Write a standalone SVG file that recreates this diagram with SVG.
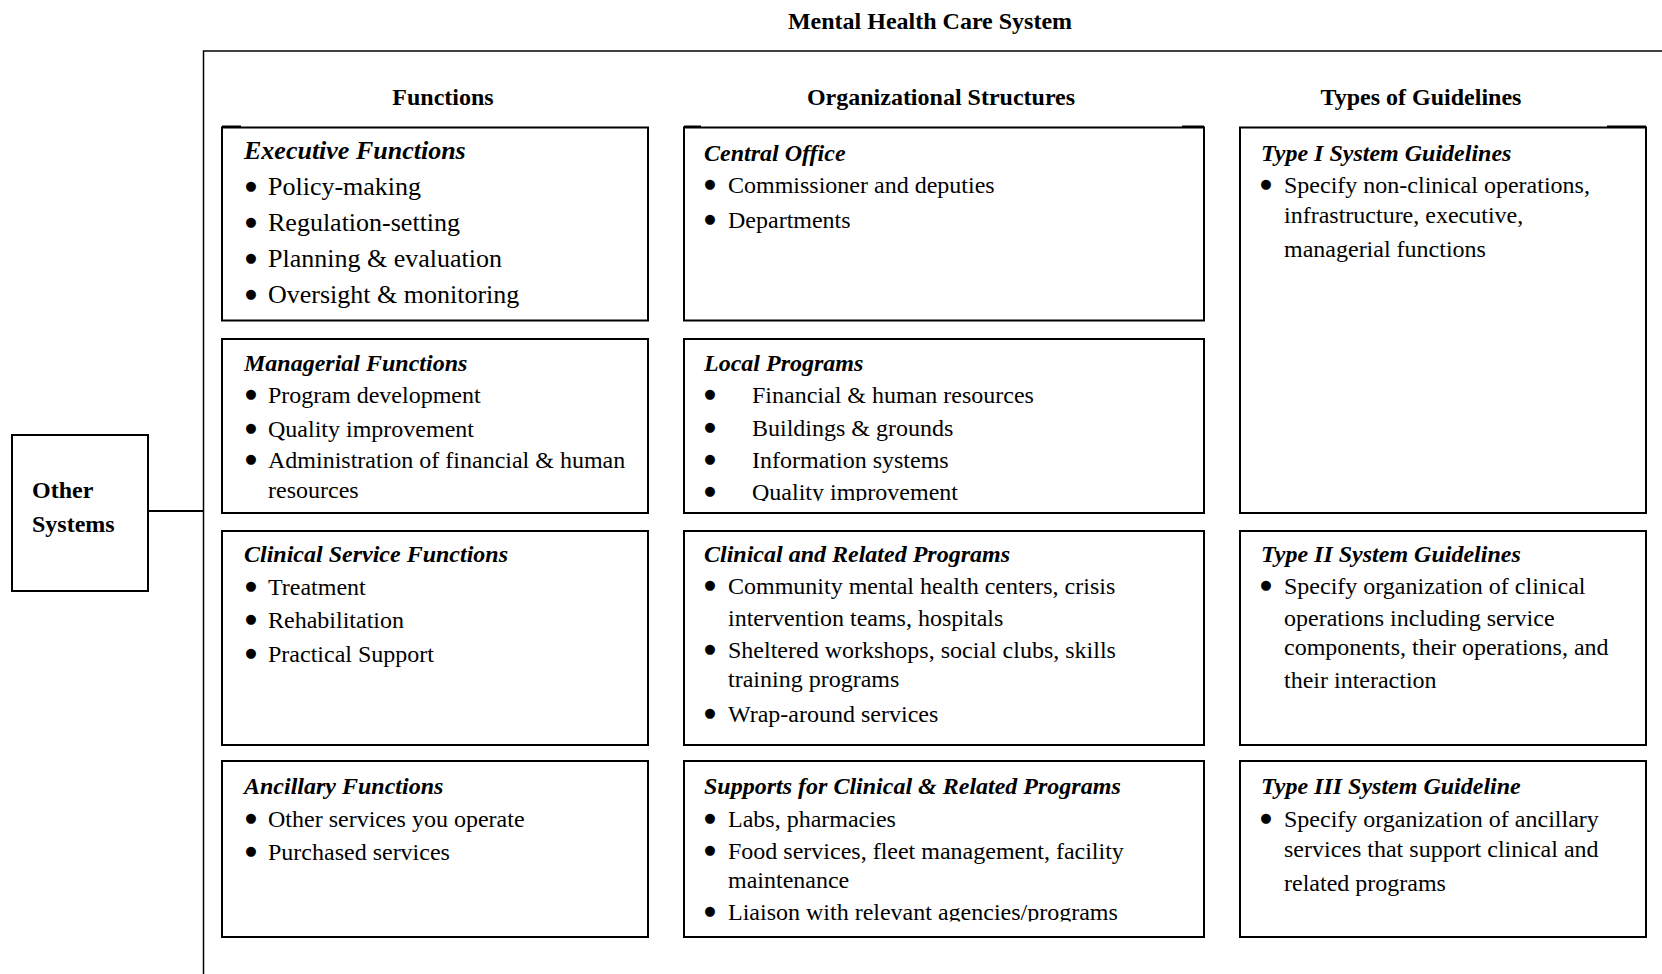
<svg xmlns="http://www.w3.org/2000/svg" width="1662" height="974" viewBox="0 0 1662 974">
  <style>
    text { font-family: "Liberation Serif", "Times New Roman", serif; fill: #000; }
    .hd { font-weight: bold; font-size: 24px; }
    .tt { font-weight: bold; font-style: italic; font-size: 24px; }
    .tx { font-size: 24px; }
    .big .tt, .big .tx { font-size: 26px; }
    .bl { font-family: "DejaVu Sans", sans-serif; font-size: 13px; text-anchor: middle; }
    .box { fill: #fff; stroke: #000; stroke-width: 2; }
    .frame { fill: none; stroke: #000; stroke-width: 1.5; }
    .tick { stroke: #000; stroke-width: 2; }
    .mid { text-anchor: middle; }
  </style>
  <defs>
    <clipPath id="clipLocal"><rect x="684" y="339" width="520" height="162"/></clipPath>
    <clipPath id="clipSupports"><rect x="684" y="761" width="520" height="160.5"/></clipPath>
  </defs>

  <rect width="1662" height="974" fill="#fff"/>

  <!-- system title and enclosing frame -->
  <g id="system">
    <text class="hd mid" x="930" y="29">Mental Health Care System</text>
    <path class="frame" d="M203.5,974 V51 H1662"/>
    <text class="hd mid" x="443" y="105">Functions</text>
    <text class="hd mid" x="941" y="105">Organizational Structures</text>
    <text class="hd mid" x="1421" y="105">Types of Guidelines</text>
  </g>

  <!-- connectors -->
  <g id="connectors">
    <line x1="148" y1="511" x2="203.5" y2="511" stroke="#000" stroke-width="2"/>
  </g>

  <g id="other-systems">
    <rect class="box" x="12" y="435" width="136" height="156"/>
    <text class="hd" x="32" y="498">Other</text>
    <text class="hd" x="32" y="532">Systems</text>
  </g>

  <!-- Functions column -->
  <g id="executive-functions" class="big">
    <rect class="box" x="222" y="127.5" width="426" height="193"/>
    <line class="tick" x1="222" y1="126.5" x2="241" y2="126.5"/>
    <text class="tt" x="244" y="159">Executive Functions</text>
    <text class="bl" x="251" y="189.5">●</text><text class="tx" x="268" y="195">Policy-making</text>
    <text class="bl" x="251" y="225.5">●</text><text class="tx" x="268" y="231">Regulation-setting</text>
    <text class="bl" x="251" y="261.5">●</text><text class="tx" x="268" y="267">Planning &amp; evaluation</text>
    <text class="bl" x="251" y="297.5">●</text><text class="tx" x="268" y="303">Oversight &amp; monitoring</text>
  </g>

  <g id="managerial-functions">
    <rect class="box" x="222" y="339" width="426" height="174"/>
    <text class="tt" x="244" y="371">Managerial Functions</text>
    <text class="bl" x="251" y="397.5">●</text><text class="tx" x="268" y="403">Program development</text>
    <text class="bl" x="251" y="431.5">●</text><text class="tx" x="268" y="437">Quality improvement</text>
    <text class="bl" x="251" y="462.5">●</text><text class="tx" x="268" y="468">Administration of financial &amp; human</text>
    <text class="tx" x="268" y="498">resources</text>
  </g>

  <g id="clinical-service-functions">
    <rect class="box" x="222" y="531" width="426" height="214"/>
    <text class="tt" x="244" y="562">Clinical Service Functions</text>
    <text class="bl" x="251" y="589.5">●</text><text class="tx" x="268" y="595">Treatment</text>
    <text class="bl" x="251" y="622.5">●</text><text class="tx" x="268" y="628">Rehabilitation</text>
    <text class="bl" x="251" y="656.5">●</text><text class="tx" x="268" y="662">Practical Support</text>
  </g>

  <g id="ancillary-functions">
    <rect class="box" x="222" y="761" width="426" height="176"/>
    <text class="tt" x="244" y="794">Ancillary Functions</text>
    <text class="bl" x="251" y="821.5">●</text><text class="tx" x="268" y="827">Other services you operate</text>
    <text class="bl" x="251" y="854.5">●</text><text class="tx" x="268" y="860">Purchased services</text>
  </g>

  <!-- Organizational Structures column -->
  <g id="central-office">
    <rect class="box" x="684" y="127.5" width="520" height="193"/>
    <line class="tick" x1="684" y1="126.5" x2="701" y2="126.5"/>
    <line class="tick" x1="1182" y1="126.5" x2="1204" y2="126.5"/>
    <text class="tt" x="704" y="161">Central Office</text>
    <text class="bl" x="710" y="187.5">●</text><text class="tx" x="728" y="193">Commissioner and deputies</text>
    <text class="bl" x="710" y="222.5">●</text><text class="tx" x="728" y="228">Departments</text>
  </g>

  <g id="local-programs">
    <rect class="box" x="684" y="339" width="520" height="174"/>
    <text class="tt" x="704" y="371">Local Programs</text>
    <text class="bl" x="710" y="397.5">●</text><text class="tx" x="752" y="403">Financial &amp; human resources</text>
    <text class="bl" x="710" y="430.5">●</text><text class="tx" x="752" y="436">Buildings &amp; grounds</text>
    <text class="bl" x="710" y="462.5">●</text><text class="tx" x="752" y="468">Information systems</text>
    <g clip-path="url(#clipLocal)">
      <text class="bl" x="710" y="494.5">●</text><text class="tx" x="752" y="500">Quality improvement</text>
    </g>
  </g>

  <g id="clinical-related-programs">
    <rect class="box" x="684" y="531" width="520" height="214"/>
    <text class="tt" x="704" y="562">Clinical and Related Programs</text>
    <text class="bl" x="710" y="588.5">●</text><text class="tx" x="728" y="594">Community mental health centers, crisis</text>
    <text class="tx" x="728" y="626">intervention teams, hospitals</text>
    <text class="bl" x="710" y="652.5">●</text><text class="tx" x="728" y="658">Sheltered workshops, social clubs, skills</text>
    <text class="tx" x="728" y="687">training programs</text>
    <text class="bl" x="710" y="716.5">●</text><text class="tx" x="728" y="722">Wrap-around services</text>
  </g>

  <g id="supports-programs">
    <rect class="box" x="684" y="761" width="520" height="176"/>
    <text class="tt" x="704" y="794">Supports for Clinical &amp; Related Programs</text>
    <text class="bl" x="710" y="821.5">●</text><text class="tx" x="728" y="827">Labs, pharmacies</text>
    <text class="bl" x="710" y="853.5">●</text><text class="tx" x="728" y="859">Food services, fleet management, facility</text>
    <text class="tx" x="728" y="888">maintenance</text>
    <g clip-path="url(#clipSupports)">
      <text class="bl" x="710" y="914.5">●</text><text class="tx" x="728" y="920">Liaison with relevant agencies/programs</text>
    </g>
  </g>

  <!-- Types of Guidelines column -->
  <g id="type-1-guidelines">
    <rect class="box" x="1240" y="127.5" width="406" height="385.5"/>
    <line class="tick" x1="1607" y1="126.5" x2="1646" y2="126.5"/>
    <text class="tt" x="1261" y="161">Type I System Guidelines</text>
    <text class="bl" x="1266" y="187.5">●</text><text class="tx" x="1284" y="193">Specify non-clinical operations,</text>
    <text class="tx" x="1284" y="223">infrastructure, executive,</text>
    <text class="tx" x="1284" y="257">managerial functions</text>
  </g>

  <g id="type-2-guidelines">
    <rect class="box" x="1240" y="531" width="406" height="214"/>
    <text class="tt" x="1261" y="562">Type II System Guidelines</text>
    <text class="bl" x="1266" y="588.5">●</text><text class="tx" x="1284" y="594">Specify organization of clinical</text>
    <text class="tx" x="1284" y="626">operations including service</text>
    <text class="tx" x="1284" y="655">components, their operations, and</text>
    <text class="tx" x="1284" y="688">their interaction</text>
  </g>

  <g id="type-3-guidelines">
    <rect class="box" x="1240" y="761" width="406" height="176"/>
    <text class="tt" x="1261" y="794">Type III System Guideline</text>
    <text class="bl" x="1266" y="821.5">●</text><text class="tx" x="1284" y="827">Specify organization of ancillary</text>
    <text class="tx" x="1284" y="857">services that support clinical and</text>
    <text class="tx" x="1284" y="891">related programs</text>
  </g>
</svg>
